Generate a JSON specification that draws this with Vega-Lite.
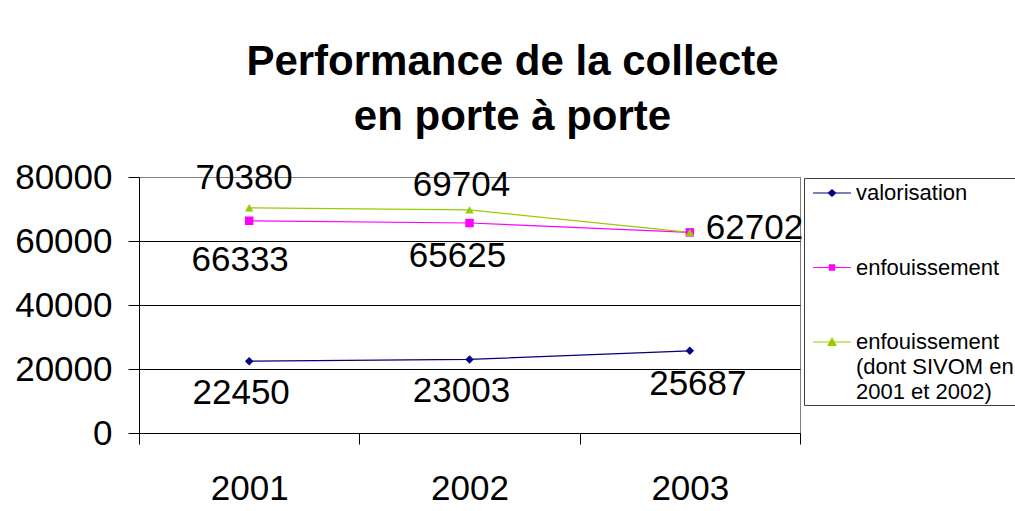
{
  "$schema": "https://vega.github.io/schema/vega-lite/v6.json",
  "width": 661,
  "height": 256,
  "autosize": {"type": "none"},
  "padding": {"left": 139, "top": 177, "right": 215, "bottom": 78},
  "background": "white",
  "title": {
    "text": ["Performance de la collecte", "en porte à porte"],
    "font": "Liberation Sans",
    "fontSize": 42,
    "fontWeight": "bold",
    "lineHeight": 55,
    "anchor": "middle",
    "frame": "group",
    "dx": 43,
    "offset": 21,
    "color": "black"
  },
  "config": {
    "view": {"stroke": "#808080", "strokeWidth": 1},
    "font": "Liberation Sans"
  },
  "resolve": {"scale": {"color": "independent", "shape": "independent"}},
  "data": {
    "values": [
      {"annee": "2001", "serie": "valorisation", "valeur": 22450},
      {"annee": "2002", "serie": "valorisation", "valeur": 23003},
      {"annee": "2003", "serie": "valorisation", "valeur": 25687},
      {"annee": "2001", "serie": "enfouissement", "valeur": 66333},
      {"annee": "2002", "serie": "enfouissement", "valeur": 65625},
      {"annee": "2003", "serie": "enfouissement", "valeur": 62702},
      {"annee": "2001", "serie": "enfouissement (dont SIVOM en 2001 et 2002)", "valeur": 70380},
      {"annee": "2002", "serie": "enfouissement (dont SIVOM en 2001 et 2002)", "valeur": 69704},
      {"annee": "2003", "serie": "enfouissement (dont SIVOM en 2001 et 2002)", "valeur": 62702}
    ]
  },
  "encoding": {
    "x": {
      "field": "annee",
      "type": "ordinal",
      "bandPosition": 0.5,
      "scale": {"type": "band", "paddingInner": 0, "paddingOuter": 0},
      "axis": {
        "title": null,
        "tickBand": "extent",
        "labelAngle": 0,
        "labelFont": "Liberation Sans",
        "labelFontSize": 35,
        "labelColor": "black",
        "labelPadding": 27,
        "tickSize": 11,
        "tickColor": "black",
        "domainColor": "black",
        "grid": false
      }
    },
    "y": {
      "field": "valeur",
      "type": "quantitative",
      "scale": {"domain": [0, 80000], "nice": false},
      "axis": {
        "title": null,
        "values": [0, 20000, 40000, 60000, 80000],
        "format": "d",
        "labelFont": "Liberation Sans",
        "labelFontSize": 35,
        "labelColor": "black",
        "labelPadding": 16,
        "tickSize": 11,
        "tickColor": "black",
        "domainColor": "black",
        "grid": true,
        "gridColor": {"condition": {"test": "datum.value == 80000", "value": "#808080"}, "value": "black"},
        "gridOpacity": 1
      }
    }
  },
  "layer": [
    {
      "mark": {"type": "line", "strokeWidth": 1.2},
      "encoding": {
        "color": {
          "field": "serie",
          "type": "nominal",
          "scale": {
            "domain": ["valorisation", "enfouissement", "enfouissement (dont SIVOM en 2001 et 2002)"],
            "range": ["#000080", "#FF00FF", "#99CC00"]
          },
          "legend": null
        }
      }
    },
    {
      "mark": {"type": "point", "filled": true, "size": 72, "opacity": 1},
      "encoding": {
        "color": {
          "field": "serie",
          "type": "nominal",
          "scale": {
            "domain": ["valorisation", "enfouissement", "enfouissement (dont SIVOM en 2001 et 2002)"],
            "range": ["#000080", "#FF00FF", "#99CC00"]
          },
          "legend": null
        },
        "shape": {
          "field": "serie",
          "type": "nominal",
          "scale": {
            "domain": ["valorisation", "enfouissement", "enfouissement (dont SIVOM en 2001 et 2002)"],
            "range": ["diamond", "square", "triangle-up"]
          },
          "legend": null
        }
      }
    },
    {
      "mark": {"type": "point", "filled": true, "size": 676, "opacity": 0},
      "encoding": {
        "color": {
          "field": "serie",
          "type": "nominal",
          "scale": {
            "domain": ["valorisation", "enfouissement", "enfouissement (dont SIVOM en 2001 et 2002)"],
            "range": ["#000080", "#FF00FF", "#99CC00"]
          },
          "legend": {
            "title": null,
            "orient": "none",
            "legendX": 665,
            "legendY": 1,
            "symbolOpacity": 1,
            "symbolSize": 676,
            "symbolStrokeWidth": 0,
            "labelFont": "Liberation Sans",
            "labelFontSize": 22,
            "labelColor": "black",
            "labelLimit": 400,
            "labelOffset": 11,
            "labelBaseline": "middle",
            "padding": 2,
            "symbolOffset": 13,
            "rowPadding": 50.5,
            "strokeColor": "#404040",
            "labelExpr": "datum.label == 'enfouissement (dont SIVOM en 2001 et 2002)' ? ['enfouissement', '(dont SIVOM en', '2001 et 2002)'] : datum.label",
            "encode": {"labels": {"update": {"lineHeight": {"value": 25}}}}
          }
        },
        "shape": {
          "field": "serie",
          "type": "nominal",
          "scale": {
            "domain": ["valorisation", "enfouissement", "enfouissement (dont SIVOM en 2001 et 2002)"],
            "range": [
              "M-1.46,-0.045H1.46V0.045H-1.46Z M0,-0.31L0.35,0L0,0.31L-0.35,0Z",
              "M-1.46,-0.045H1.46V0.045H-1.46Z M-0.25,-0.25H0.25V0.25H-0.25Z",
              "M-1.46,-0.045H1.46V0.045H-1.46Z M0,-0.38L0.38,0.3L-0.38,0.3Z"
            ]
          },
          "legend": {
            "title": null,
            "orient": "none",
            "legendX": 665,
            "legendY": 1,
            "symbolOpacity": 1,
            "symbolSize": 676,
            "symbolStrokeWidth": 0,
            "labelFont": "Liberation Sans",
            "labelFontSize": 22,
            "labelColor": "black",
            "labelLimit": 400,
            "labelOffset": 11,
            "labelBaseline": "middle",
            "padding": 2,
            "symbolOffset": 13,
            "rowPadding": 50.5,
            "strokeColor": "#404040",
            "labelExpr": "datum.label == 'enfouissement (dont SIVOM en 2001 et 2002)' ? ['enfouissement', '(dont SIVOM en', '2001 et 2002)'] : datum.label",
            "encode": {"labels": {"update": {"lineHeight": {"value": 25}}}}
          }
        }
      }
    },
    {
      "transform": [{"filter": "datum.serie == 'enfouissement (dont SIVOM en 2001 et 2002)' && datum.annee == '2001'"}],
      "mark": {"type": "text", "font": "Liberation Sans", "fontSize": 35, "color": "black", "baseline": "alphabetic", "dx": -5, "dy": -19},
      "encoding": {"text": {"field": "valeur", "type": "quantitative", "format": "d"}}
    },
    {
      "transform": [{"filter": "datum.serie == 'enfouissement (dont SIVOM en 2001 et 2002)' && datum.annee == '2002'"}],
      "mark": {"type": "text", "font": "Liberation Sans", "fontSize": 35, "color": "black", "baseline": "alphabetic", "dx": -8, "dy": -14},
      "encoding": {"text": {"field": "valeur", "type": "quantitative", "format": "d"}}
    },
    {
      "transform": [{"filter": "datum.serie == 'enfouissement (dont SIVOM en 2001 et 2002)' && datum.annee == '2003'"}],
      "mark": {"type": "text", "font": "Liberation Sans", "fontSize": 35, "color": "black", "baseline": "alphabetic", "align": "left", "dx": 16, "dy": 7},
      "encoding": {"text": {"field": "valeur", "type": "quantitative", "format": "d"}}
    },
    {
      "transform": [{"filter": "datum.serie == 'enfouissement' && datum.annee == '2001'"}],
      "mark": {"type": "text", "font": "Liberation Sans", "fontSize": 35, "color": "black", "baseline": "alphabetic", "dx": -9, "dy": 50},
      "encoding": {"text": {"field": "valeur", "type": "quantitative", "format": "d"}}
    },
    {
      "transform": [{"filter": "datum.serie == 'enfouissement' && datum.annee == '2002'"}],
      "mark": {"type": "text", "font": "Liberation Sans", "fontSize": 35, "color": "black", "baseline": "alphabetic", "dx": -12, "dy": 44},
      "encoding": {"text": {"field": "valeur", "type": "quantitative", "format": "d"}}
    },
    {
      "transform": [{"filter": "datum.serie == 'valorisation' && datum.annee != '2003'"}],
      "mark": {"type": "text", "font": "Liberation Sans", "fontSize": 35, "color": "black", "baseline": "alphabetic", "dx": -8, "dy": 43},
      "encoding": {"text": {"field": "valeur", "type": "quantitative", "format": "d"}}
    },
    {
      "transform": [{"filter": "datum.serie == 'valorisation' && datum.annee == '2003'"}],
      "mark": {"type": "text", "font": "Liberation Sans", "fontSize": 35, "color": "black", "baseline": "alphabetic", "dx": 8, "dy": 44},
      "encoding": {"text": {"field": "valeur", "type": "quantitative", "format": "d"}}
    }
  ]
}
